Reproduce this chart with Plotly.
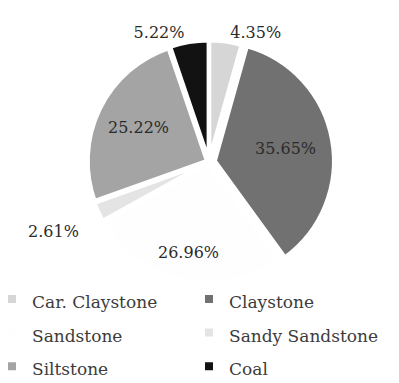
import math
import plotly.graph_objects as go

categories = ["Car. Claystone", "Claystone", "Sandstone", "Sandy Sandstone", "Siltstone", "Coal"]
counts = [5, 41, 31, 3, 29, 6]

colors = ["#d6d6d6", "#717171", "#fefefe", "#e4e4e4", "#a4a4a4", "#121212"]
pulls = [0.02, 0.05, 0.02, 0.02, 0.02, 0.02]
# labels drawn by plotly ("outside") or as radial annotations (radius factor)
text_pos = ["outside", "none", "none", "none", "none", "outside"]
label_radius = [None, 0.60, 0.76, 1.41, 0.64, None]

W, H = 399, 383
dom_x = [0.2105, 0.8371]
dom_y = [0.2506, 0.9034]
FONT = "DejaVu Serif"

labels = ['<span style="font-size:17px">%s</span>' % c for c in categories]

fig = go.Figure(go.Pie(
    labels=labels,
    values=counts,
    sort=False,
    direction="clockwise",
    rotation=0,
    marker=dict(colors=colors, line=dict(color="white", width=4)),
    pull=pulls,
    texttemplate="%{percent:.2%}",
    textposition=text_pos,
    textfont=dict(family=FONT, size=16, color="#2b2b2b"),
    domain=dict(x=dom_x, y=dom_y),
    showlegend=True,
    hoverinfo="label+percent",
))

# radial label annotations computed from the data
total = sum(counts)
cx = (dom_x[0] + dom_x[1]) / 2 * W
cy = (1 - (dom_y[0] + dom_y[1]) / 2) * H
R = min((dom_x[1] - dom_x[0]) * W, (dom_y[1] - dom_y[0]) * H) / 2
r = R / (1 + max(pulls))
cum = 0
for v, k, p in zip(counts, label_radius, pulls):
    mid = (cum + v / 2) / total * 2 * math.pi
    cum += v
    if k is None:
        continue
    rho = (k + p) * r
    px = cx + rho * math.sin(mid)
    py = cy - rho * math.cos(mid)
    fig.add_annotation(
        x=px / W, y=1 - py / H, xref="paper", yref="paper",
        text="%.2f%%" % (100 * v / total), showarrow=False,
        xanchor="center", yanchor="middle",
        font=dict(family=FONT, size=16, color="#2b2b2b"),
    )

fig.update_layout(
    width=W, height=H,
    margin=dict(l=0, r=0, t=0, b=0, autoexpand=False),
    paper_bgcolor="white", plot_bgcolor="white",
    legend=dict(
        orientation="h",
        x=0, xanchor="left",
        y=0.276, yanchor="top",
        entrywidth=160, entrywidthmode="pixels",
        indentation=-8,
        font=dict(family=FONT, size=23.5, color="#3c3c3c"),
        bgcolor="rgba(0,0,0,0)",
    ),
)

fig.write_html("out.html")
